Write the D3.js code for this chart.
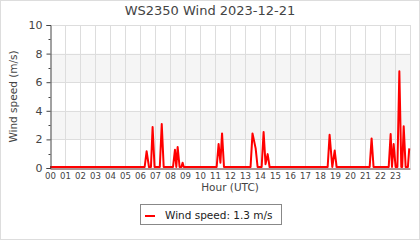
<!DOCTYPE html>
<html>
<head>
<meta charset="utf-8">
<script src="https://cdn.jsdelivr.net/npm/d3@7"></script>
<style>
  body { margin: 0; background: #fff; }
  svg { display: block; font-family: "DejaVu Sans", sans-serif; }
</style>
</head>
<body>
<div id="container"></div>
<script>
/* CONSTANTS AND GLOBALS */
const width = 420,
  height = 240,
  margin = { top: 25, bottom: 72, left: 50, right: 10 };

/* DATA */
// time of reading in hours (UTC) and wind speed (m/s)
const hours = [
  0, 6.31, 6.44, 6.6, 6.73, 6.84, 6.97, 7.32, 7.45, 7.58,
  8.2, 8.33, 8.42, 8.51, 8.64, 8.76, 8.84, 8.92,
  11.11, 11.24, 11.36, 11.47, 11.6,
  13.37, 13.5, 13.71, 13.84, 14.11, 14.24, 14.37, 14.51, 14.64,
  18.51, 18.64, 18.82, 18.98, 19.11,
  21.31, 21.44, 21.57,
  22.58, 22.71, 22.8, 22.91, 23.04, 23.16, 23.29, 23.42, 23.48, 23.58, 23.71, 23.86, 23.95
];
const speeds = [
  0, 0, 1.1, 0, 0, 2.8, 0, 0, 3.0, 0,
  0, 1.2, 0, 1.4, 0, 0, 0.3, 0,
  0, 1.6, 0.3, 2.35, 0,
  0, 2.35, 1.3, 0, 0, 2.45, 0.2, 0.9, 0,
  0, 2.25, 0, 1.15, 0,
  0, 2.0, 0,
  0, 2.3, 0, 1.6, 0, 0, 6.7, 0, 0, 2.85, 0, 0, 1.3
];
const hourTicks = d3.range(0, 24);
const yTicks = [0, 2, 4, 6, 8, 10];
const yMinorTicks = [1, 3, 5, 7, 9];
const bands = [[2, 4], [6, 8]];

const title = "WS2350 Wind 2023-12-21";
const latest = speeds[speeds.length - 1];

const data = hours.map((h, i) => ({ h: h, v: speeds[i] }));

/* SCALES */
const xScale = d3.scaleLinear()
  .domain([0, 24])
  .range([margin.left, width - margin.right]);

const yScale = d3.scaleLinear()
  .domain([0, 10])
  .range([height - margin.bottom, margin.top]);

/* DRAW */
const svg = d3.select("#container")
  .append("svg")
  .attr("width", width)
  .attr("height", height);

// frame round the whole picture
svg.append("rect")
  .attr("x", 0.5).attr("y", 0.5)
  .attr("width", width - 1).attr("height", height - 1)
  .attr("fill", "#fff")
  .attr("stroke", "#ddd");

// shaded bands
svg.selectAll("rect.band")
  .data(bands)
  .join("rect")
  .attr("class", "band")
  .attr("x", xScale(0))
  .attr("width", xScale(24) - xScale(0))
  .attr("y", d => yScale(d[1]))
  .attr("height", d => yScale(d[0]) - yScale(d[1]))
  .attr("fill", "#f5f5f5");

// grid
svg.selectAll("line.vgrid")
  .data(d3.range(1, 25))
  .join("line")
  .attr("class", "vgrid")
  .attr("x1", d => Math.round(xScale(d)) + 0.5)
  .attr("x2", d => Math.round(xScale(d)) + 0.5)
  .attr("y1", yScale(10))
  .attr("y2", yScale(0))
  .attr("stroke", "#ddd");

svg.selectAll("line.hgrid")
  .data(yTicks.filter(d => d > 0))
  .join("line")
  .attr("class", "hgrid")
  .attr("x1", xScale(0))
  .attr("x2", xScale(24))
  .attr("y1", d => Math.round(yScale(d)) + 0.5)
  .attr("y2", d => Math.round(yScale(d)) + 0.5)
  .attr("stroke", "#ddd");

// wind line
const line = d3.line()
  .x(d => xScale(d.h))
  .y(d => yScale(d.v) - 1);

svg.append("path")
  .datum(data)
  .attr("d", line)
  .attr("fill", "none")
  .attr("stroke", "#f00")
  .attr("stroke-width", 2)
  .attr("stroke-linejoin", "round");

// y axis with minor ticks
const yAxis = d3.axisLeft(yScale)
  .tickValues(yTicks)
  .tickSize(4)
  .tickPadding(4);

const yG = svg.append("g")
  .attr("transform", `translate(${margin.left + 0.5}, 0)`)
  .call(yAxis);
yG.select(".domain").attr("stroke", "#444");
yG.selectAll(".tick line").attr("stroke", "#444");
yG.selectAll("text")
  .attr("fill", "#444")
  .style("font-size", "11px")
  .style("font-family", "DejaVu Sans");

yG.selectAll("line.minor")
  .data(yMinorTicks)
  .join("line")
  .attr("class", "minor")
  .attr("x1", -2).attr("x2", 0)
  .attr("y1", d => Math.round(yScale(d)) + 0.5)
  .attr("y2", d => Math.round(yScale(d)) + 0.5)
  .attr("stroke", "#444");

// x axis
const xAxis = d3.axisBottom(xScale)
  .tickValues(hourTicks)
  .tickSize(0)
  .tickPadding(4)
  .tickFormat(d3.format("02d"));

const xG = svg.append("g")
  .attr("transform", `translate(0, ${height - margin.bottom + 0.5})`)
  .call(xAxis);
xG.select(".domain").attr("stroke", "#5a2a2a");
xG.selectAll("text")
  .attr("fill", "#444")
  .style("font-size", "9.5px")
  .style("font-family", "DejaVu Sans Condensed, DejaVu Sans")
  .style("font-stretch", "condensed");

// title and labels
svg.append("text")
  .attr("x", width / 2)
  .attr("y", 15)
  .attr("text-anchor", "middle")
  .attr("fill", "#444")
  .style("font-size", "13px")
  .text(title);

svg.append("text")
  .attr("x", (xScale(0) + xScale(24)) / 2)
  .attr("y", 191)
  .attr("text-anchor", "middle")
  .attr("fill", "#444")
  .style("font-size", "10.5px")
  .text("Hour (UTC)");

svg.append("text")
  .attr("transform", `translate(17, ${(yScale(0) + yScale(10)) / 2}) rotate(-90)`)
  .attr("text-anchor", "middle")
  .attr("fill", "#444")
  .style("font-size", "10.5px")
  .text("Wind speed (m/s)");

// legend
const legend = svg.append("g");
legend.append("rect")
  .attr("x", 140.5).attr("y", 204.5)
  .attr("width", 141).attr("height", 20)
  .attr("fill", "#fff")
  .attr("stroke", "#888");
legend.append("line")
  .attr("x1", 145).attr("x2", 155)
  .attr("y1", 216).attr("y2", 216)
  .attr("stroke", "#f00")
  .attr("stroke-width", 2);
legend.append("text")
  .attr("x", 165)
  .attr("y", 218.5)
  .attr("fill", "#222")
  .style("font-size", "10.5px")
  .text(`Wind speed: ${latest} m/s`);
</script>
</body>
</html>
